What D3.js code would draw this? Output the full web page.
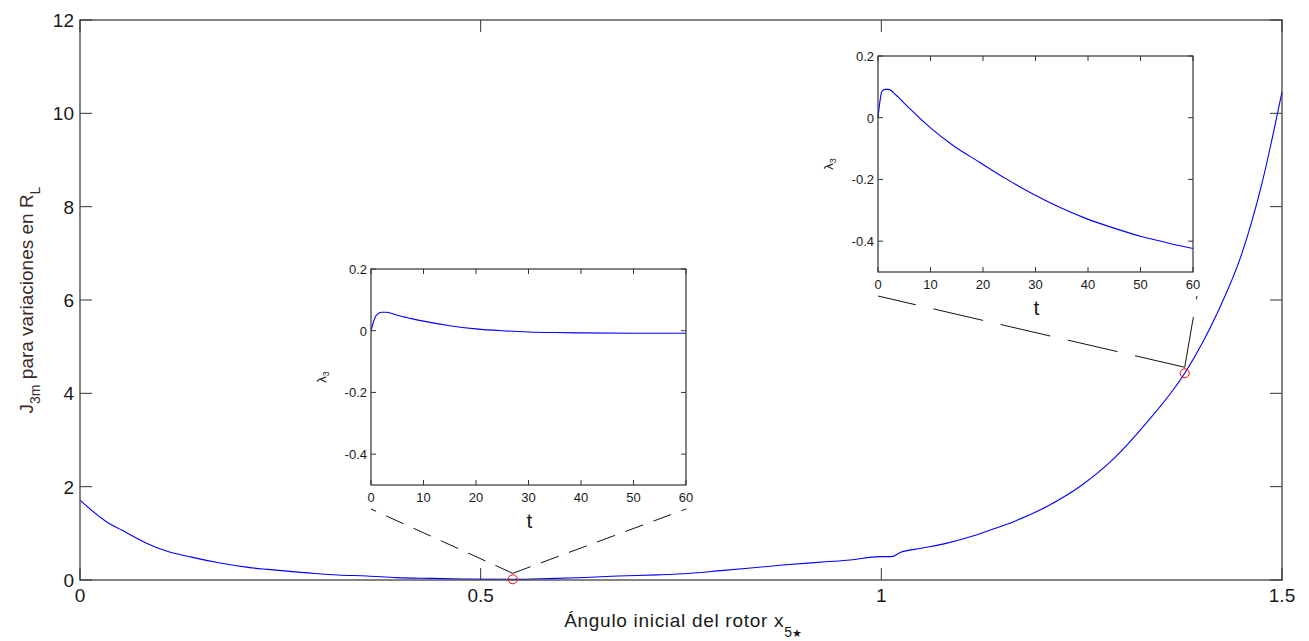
<!DOCTYPE html>
<html>
<head>
<meta charset="utf-8">
<script src="https://cdn.jsdelivr.net/npm/d3@7"></script>
<style>
  html, body { margin: 0; padding: 0; background: #fff; }
  svg { display: block; font-family: "Liberation Sans", Arial, sans-serif; }
</style>
</head>
<body>
<svg id="chart" width="1309" height="641"></svg>
<script>
// ---------------- data ----------------
const mainX = [0, 0.033, 0.052, 0.083, 0.106, 0.139, 0.173, 0.21, 0.252, 0.293, 0.322, 0.358, 0.395, 0.44, 0.478, 0.54, 0.584, 0.63, 0.671, 0.72, 0.759, 0.8, 0.877, 0.93, 0.961, 0.998, 1.013, 1.023, 1.05, 1.082, 1.11, 1.136, 1.165, 1.206, 1.25, 1.29, 1.33, 1.3786, 1.42, 1.45, 1.475, 1.5];
const mainY = [1.71, 1.25, 1.07, 0.79, 0.63, 0.49, 0.37, 0.27, 0.20, 0.14, 0.107, 0.086, 0.05, 0.035, 0.022, 0.015, 0.03, 0.055, 0.086, 0.11, 0.14, 0.2, 0.32, 0.39, 0.43, 0.50, 0.50, 0.585, 0.68, 0.79, 0.92, 1.07, 1.25, 1.57, 2.03, 2.6, 3.35, 4.43, 5.75, 7.0, 8.5, 10.46];

const inset1T = [0, 0.5, 1, 2, 3, 5, 7.5, 10, 15, 20, 25, 30, 35, 40, 50, 60];
const inset1L = [0, 0.03, 0.05, 0.06, 0.06, 0.05, 0.04, 0.031, 0.016, 0.006, 0.0, -0.004, -0.006, -0.007, -0.008, -0.008];

const inset2T = [0, 0.4, 0.7, 1.3, 2, 3.5, 6, 10, 14.3, 19.4, 24.5, 29.6, 34.7, 39.7, 44.8, 50, 55, 60];
const inset2L = [0, 0.056, 0.084, 0.092, 0.092, 0.072, 0.03, -0.033, -0.09, -0.145, -0.199, -0.248, -0.291, -0.327, -0.357, -0.384, -0.405, -0.424];

const markerX = [0.54, 1.3786];
const markerY = [0.015, 4.43];

const mainXTicks = [0, 0.5, 1, 1.5];
const mainXTickLabels = ["0", "0.5", "1", "1.5"];
const mainYTicks = [0, 2, 4, 6, 8, 10, 12];
const insetXTicks = [0, 10, 20, 30, 40, 50, 60];
const insetYTicks = [0.2, 0, -0.2, -0.4];
const insetYTickLabels = ["0.2", "0", "-0.2", "-0.4"];

// ---------------- drawing ----------------
const svg = d3.select("#chart");
const axisColor = "#333";
const textColor = "#1a1a1a";

const M = { left: 80, top: 20, right: 1282, bottom: 580 };
const x = d3.scaleLinear().domain([0, 1.5]).range([M.left, M.right]);
const y = d3.scaleLinear().domain([0, 12]).range([M.bottom, M.top]);

function drawFrame(g, xs, ys, xt, yt, tickLen) {
  const [x0, x1] = xs.range();
  const [y0, y1] = ys.range(); // y0 bottom, y1 top
  xt.forEach(v => {
    g.append("line").attr("x1", xs(v)).attr("x2", xs(v)).attr("y1", y0).attr("y2", y0 - tickLen).attr("stroke", axisColor);
    g.append("line").attr("x1", xs(v)).attr("x2", xs(v)).attr("y1", y1).attr("y2", y1 + tickLen).attr("stroke", axisColor);
  });
  yt.forEach(v => {
    g.append("line").attr("x1", x0).attr("x2", x0 + tickLen).attr("y1", ys(v)).attr("y2", ys(v)).attr("stroke", axisColor);
    g.append("line").attr("x1", x1).attr("x2", x1 - tickLen).attr("y1", ys(v)).attr("y2", ys(v)).attr("stroke", axisColor);
  });
  g.append("rect").attr("x", x0).attr("y", y1).attr("width", x1 - x0).attr("height", y0 - y1)
    .attr("fill", "none").attr("stroke", axisColor).attr("stroke-width", 1.2);
}

// main axes
const gMain = svg.append("g");
gMain.append("path")
  .datum(mainX.map((v, i) => [v, mainY[i]]))
  .attr("fill", "none").attr("stroke", "#0000ff").attr("stroke-width", 1.1)
  .attr("d", d3.line().x(d => x(d[0])).y(d => y(d[1])).curve(d3.curveMonotoneX));
drawFrame(gMain, x, y, mainXTicks, mainYTicks, 12);

gMain.selectAll("text.xt").data(mainXTicks).join("text")
  .attr("x", d => x(d)).attr("y", 602).attr("text-anchor", "middle")
  .attr("font-size", 19).attr("fill", textColor)
  .text((d, i) => mainXTickLabels[i]);
gMain.selectAll("text.yt").data(mainYTicks).join("text")
  .attr("x", M.left - 6).attr("y", d => y(d) + 7).attr("text-anchor", "end")
  .attr("font-size", 19).attr("fill", textColor)
  .text(d => d);

// x label
const xl = svg.append("text").attr("x", 683).attr("y", 627)
  .attr("text-anchor", "middle").attr("font-size", 19).attr("fill", textColor);
xl.append("tspan").attr("letter-spacing", 0.7).text("Ángulo inicial del rotor x");
xl.append("tspan").attr("dy", 10).attr("font-size", 14).text("5");
xl.append("tspan").attr("font-size", 11).attr("font-family", "DejaVu Sans").text("★");

// y label
const yl = svg.append("text").attr("transform", `translate(33,${(M.top + M.bottom) / 2}) rotate(-90)`)
  .attr("text-anchor", "middle").attr("font-size", 19).attr("fill", "#3a2a2a");
yl.append("tspan").text("J");
yl.append("tspan").attr("dy", 7).attr("font-size", 14).text("3m");
yl.append("tspan").attr("dy", -7).text(" para variaciones en R");
yl.append("tspan").attr("dy", 7).attr("font-size", 14).text("L");

// insets
const insets = [
  { left: 371, top: 269, t: inset1T, l: inset1L, mi: 0, dash: "19,11" },
  { left: 878, top: 56, t: inset2T, l: inset2L, mi: 1, dash: "51,18" }
];
const W = 315, H = 216;

insets.forEach(ins => {
  const g = svg.append("g");
  const xs = d3.scaleLinear().domain([0, 60]).range([ins.left, ins.left + W]);
  const ys = d3.scaleLinear().domain([-0.5, 0.2]).range([ins.top + H, ins.top]);
  g.append("rect").attr("x", ins.left).attr("y", ins.top).attr("width", W).attr("height", H).attr("fill", "#fff");
  g.append("path")
    .datum(ins.t.map((v, i) => [v, ins.l[i]]))
    .attr("fill", "none").attr("stroke", "#0000ff").attr("stroke-width", 1.1)
    .attr("d", d3.line().x(d => xs(d[0])).y(d => ys(d[1])).curve(d3.curveMonotoneX));
  drawFrame(g, xs, ys, insetXTicks, insetYTicks, 5);
  g.selectAll("text.xt").data(insetXTicks).join("text")
    .attr("x", d => xs(d)).attr("y", ins.top + H + 17).attr("text-anchor", "middle")
    .attr("font-size", 13).attr("fill", textColor).text(d => d);
  g.selectAll("text.yt").data(insetYTicks).join("text")
    .attr("x", ins.left - 4).attr("y", d => ys(d) + 5).attr("text-anchor", "end")
    .attr("font-size", 13).attr("fill", textColor).text((d, i) => insetYTickLabels[i]);
  g.append("text").attr("x", ins.left + W / 2 + 1).attr("y", ins.top + H + 43)
    .attr("text-anchor", "middle").attr("font-size", 21).attr("fill", textColor).text("t");
  const lam = g.append("text").attr("transform", `translate(${ins.left - 45},${ins.top + H / 2}) rotate(-90)`)
    .attr("text-anchor", "middle").attr("font-size", 13).attr("fill", textColor);
  lam.append("tspan").text("λ");
  lam.append("tspan").attr("dy", 3).attr("font-size", 9).text("3");

  // connector dashed lines
  const mx = x(markerX[ins.mi]), my = y(markerY[ins.mi]);
  const sy = ins.top + H + 24;
  [[ins.left, sy], [ins.left + W + (ins.mi === 1 ? 4 : 0), sy]].forEach(p => {
    svg.append("line").attr("x1", mx).attr("y1", my - 6).attr("x2", p[0]).attr("y2", p[1])
      .attr("stroke", "#111").attr("stroke-width", 1).attr("stroke-dasharray", ins.dash);
  });
});

// markers
svg.selectAll("circle.mk").data(markerX).join("circle")
  .attr("cx", d => x(d)).attr("cy", (d, i) => y(markerY[i]))
  .attr("r", 4.5).attr("fill", "none").attr("stroke", "#ff0000").attr("stroke-width", 1);
</script>
</body>
</html>
